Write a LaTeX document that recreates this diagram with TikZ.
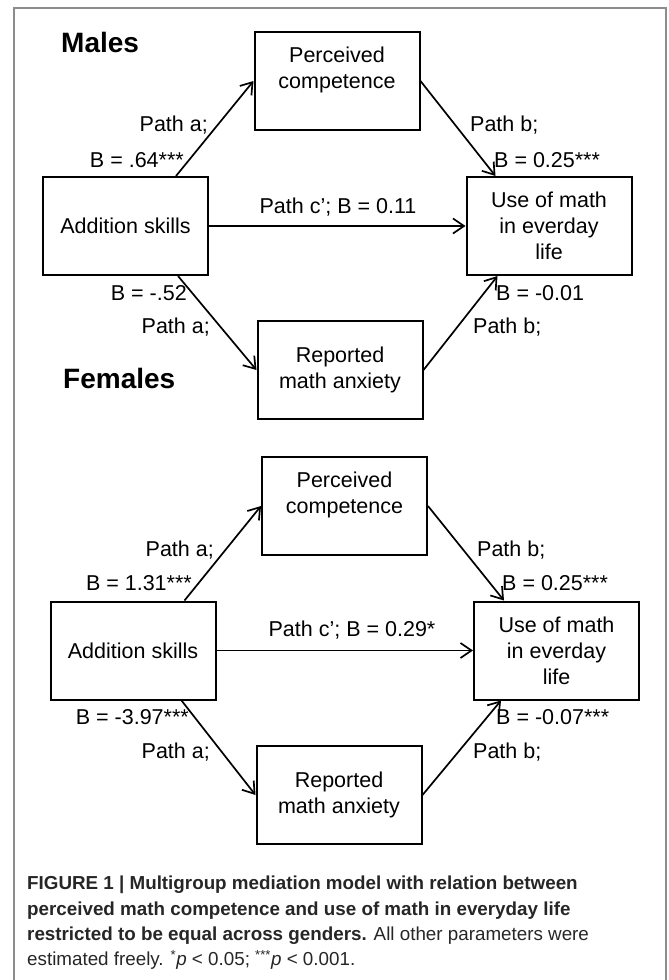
\documentclass[tikz,border=0pt]{standalone}
\usepackage{fontspec}
\setmainfont{Liberation Sans}
\usetikzlibrary{arrows.meta}

\definecolor{framegray}{gray}{0.55}
\definecolor{capgray}{gray}{0.15}

\tikzset{
  varbox/.style={draw, line width=2pt, minimum width=165pt, minimum height=98pt,
                 inner sep=0pt, align=center, font=\fontsize{21.5}{26}\selectfont},
  arr/.style={line width=1.7pt, -{Straight Barb[length=11pt,width=15pt,line width=1.7pt]}},
  lbl/.style={inner sep=0pt, font=\fontsize{21.5}{26}\selectfont},
  grouptitle/.style={inner sep=0pt, anchor=west, font=\fontsize{28}{30}\selectfont\bfseries}
}

\begin{document}
\begin{tikzpicture}[x=1pt,y=-1pt]
                    \useasboundingbox (0,0) rectangle (669,980);
                    \draw[framegray, line width=1.5pt] (14,985) -- (14,8) -- (666,8) -- (666,985);

                    % males
                    \node[grouptitle] (males) at (61,42) {Males};
                    \node[varbox] (pcm) at (337,81) {Perceived\\competence\\\mbox{}};
                    \node[varbox] (addm) at (125.5,226) {Addition skills};
                    \node[varbox] (usem) at (549,226) {Use of math\\in everday\\life};
                    \node[varbox] (ram) at (340,370) {Reported\\math anxiety};

                    \draw[arr] ([xshift=-33pt]addm.north east) -- (pcm.west);
                    \draw[arr] (pcm.east) -- ([xshift=30pt]usem.north west);
                    \draw[arr] (addm.east) -- (usem.west);
                    \draw[arr] ([xshift=-31pt]addm.south east) -- (ram.west);
                    \draw[arr] (ram.east) -- ([xshift=32pt]usem.south west);

                    \node[lbl, anchor=east] (mpa) at (208,125) {Path a;};
                    \node[lbl, anchor=east] (mba) at (184,160) {B = .64***};
                    \node[lbl, anchor=west] (mpb) at (470,125) {Path b;};
                    \node[lbl, anchor=west] (mbb) at (494,160) {B = 0.25***};
                    \node[lbl] (mpc) at (338,207) {Path c'; B = 0.11};
                    \node[lbl, anchor=east] (mbd) at (187,293) {B = -.52};
                    \node[lbl, anchor=east] (mpd) at (210,327) {Path a;};
                    \node[lbl, anchor=west] (mbe) at (496,293) {B = -0.01};
                    \node[lbl, anchor=west] (mpe) at (473,327) {Path b;};

                    % females
                    \node[grouptitle] (females) at (63,378) {Females};
                    \node[varbox] (pcf) at (344.5,506) {Perceived\\competence\\\mbox{}};
                    \node[varbox] (addf) at (133,650.5) {Addition skills};
                    \node[varbox] (usef) at (556.5,650.5) {Use of math\\in everday\\life};
                    \node[varbox] (raf) at (339,795) {Reported\\math anxiety};

                    \draw[arr] ([xshift=-32pt]addf.north east) -- (pcf.west);
                    \draw[arr] (pcf.east) -- ([xshift=31pt]usef.north west);
                    \draw[arr] (addf.east) -- (usef.west);
                    \draw[arr] ([xshift=-35pt]addf.south east) -- (raf.west);
                    \draw[arr] (raf.east) -- ([xshift=28pt]usef.south west);

                    \node[lbl, anchor=east] (fpa) at (214,550) {Path a;};
                    \node[lbl, anchor=east] (fba) at (192,583) {B = 1.31***};
                    \node[lbl, anchor=west] (fpb) at (477,550) {Path b;};
                    \node[lbl, anchor=west] (fbb) at (502,583) {B = 0.25***};
                    \node[lbl] (fpc) at (352,630) {Path c'; B = 0.29*};
                    \node[lbl, anchor=east] (fbd) at (189,717) {B = -3.97***};
                    \node[lbl, anchor=east] (fpd) at (210,752) {Path a;};
                    \node[lbl, anchor=west] (fbe) at (496,717) {B = -0.07***};
                    \node[lbl, anchor=west] (fpe) at (473,752) {Path b;};

                    % caption
                    \node[inner sep=0pt, anchor=north west, align=left, text=capgray,
                          font=\fontsize{18.8}{25.3}\selectfont] (caption) at (27,876)
                          {\textbf{FIGURE 1 | Multigroup mediation model with relation between}\\
                           \textbf{perceived math competence and use of math in everyday life}\\
                           \textbf{restricted to be equal across genders.} All other parameters were\\
                           estimated freely. \textsuperscript{*}\textit{p} < 0.05; \textsuperscript{***}\textit{p} < 0.001.};
                \end{tikzpicture}
\end{document}
